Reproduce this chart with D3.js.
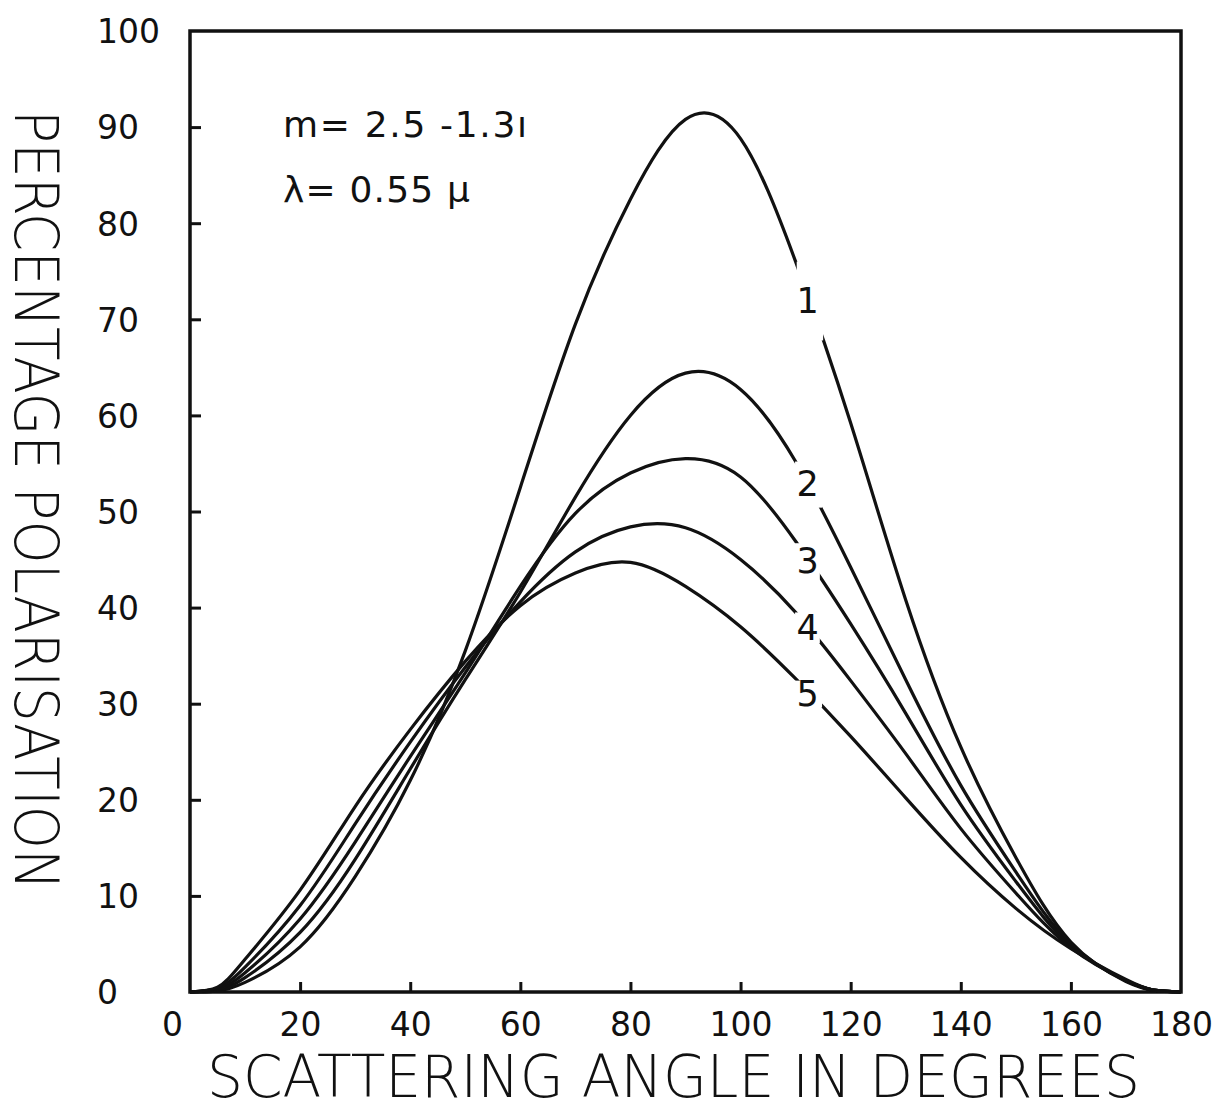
<!DOCTYPE html>
<meta charset="utf-8">
<script src="https://d3js.org/d3.v7.min.js"></script>
<style>
  body { margin: 0; background: #fff; }
  text { font-family: "DejaVu Sans", sans-serif; fill: #111; }
</style>
<body>
<div id="my_dataviz"></div>
</body>
<script>
    // scattering angle (degrees) shared by all curves
    var angles = [0, 5, 10, 20, 30, 40, 50, 60, 70, 80, 90, 100, 110, 120, 130, 140, 150, 160, 170, 175, 180];

    // percentage polarisation for curves 1..5
    var curve1 = [0, 0.1, 1.0, 4.7, 12, 22, 35.5, 52.5, 69.5, 82.5, 90.8, 88.8, 76, 59.2, 40.8, 25.5, 14, 5.2, 1.1, 0.2, 0];
    var curve2 = [0, 0.2, 1.5, 6.2, 13.8, 23.2, 32.5, 41.6, 51.5, 60.0, 64.4, 62.7, 55.2, 44.2, 32.5, 21.5, 12.5, 5.0, 1.2, 0.2, 0];
    var curve3 = [0, 0.3, 2.0, 7.6, 15.6, 24.5, 33.2, 42.2, 49.8, 54.0, 55.5, 53.6, 46.9, 38.3, 29, 19.5, 11.5, 4.8, 1.2, 0.2, 0];
    var curve4 = [0, 0.4, 2.6, 9.0, 17.5, 26, 33.8, 40.6, 45.8, 48.4, 48.3, 45, 39.5, 32.4, 24.8, 17, 10.3, 4.6, 1.2, 0.2, 0];
    var curve5 = [0, 0.5, 3.4, 10.6, 19.3, 27.3, 34.4, 40.2, 43.6, 44.7, 42.2, 38, 32.6, 26.6, 20.2, 14.0, 8.7, 4.5, 1.3, 0.2, 0];

    var curveNames = ["1", "2", "3", "4", "5"];
    // where each curve is broken for its number: [angle from, value from, angle to, value to]
    var gaps = [
        [110.2, 76.0, 115.0, 67.8],
        [109.9, 55.2, 114.8, 50.4],
        [109.9, 46.7, 114.4, 42.9],
        [109.9, 39.5, 114.4, 36.3],
        [109.7, 32.4, 114.8, 29.6]
    ];
    var labelAngle = 112.2;
    var labelValue = [72.0, 52.9, 44.9, 37.9, 31.1];

    var xTicks = [0, 20, 40, 60, 80, 100, 120, 140, 160, 180];
    var yTicks = [0, 10, 20, 30, 40, 50, 60, 70, 80, 90, 100];

    var width = 1212, height = 1112;
    var margin = {top: 31, right: 31, bottom: 120, left: 190};
    var innerW = width - margin.left - margin.right,
        innerH = height - margin.top - margin.bottom;

    var svg = d3.select("#my_dataviz")
        .append("svg")
        .attr("width", width)
        .attr("height", height)
        .append("g")
        .attr("transform", "translate(" + margin.left + "," + margin.top + ")");

    var x = d3.scaleLinear().domain([0, 180]).range([0, innerW]);
    var y = d3.scaleLinear().domain([0, 100]).range([innerH, 0]);

    // x axis, ticks pointing inward
    var gx = svg.append("g")
        .attr("transform", "translate(0," + innerH + ")")
        .call(d3.axisBottom(x).tickValues(xTicks).tickSize(-10).tickPadding(21));
    gx.select(".domain").remove();
    gx.selectAll(".tick line").attr("stroke", "#111").attr("stroke-width", 3)
        .filter(function (d) { return d == 0 || d == 180; }).remove();
    gx.selectAll(".tick text").style("font-size", "33px").attr("fill", "#111")
        .filter(function (d) { return d == 0; }).attr("dx", -18);

    // y axis, labels left aligned
    var gy = svg.append("g")
        .call(d3.axisLeft(y).tickValues(yTicks).tickSize(-11));
    gy.select(".domain").remove();
    gy.selectAll(".tick line").attr("stroke", "#111").attr("stroke-width", 3)
        .filter(function (d) { return d == 0 || d == 100; }).remove();
    gy.selectAll(".tick text")
        .attr("x", 97 - margin.left)
        .attr("text-anchor", "start")
        .attr("dy", "0.36em")
        .style("font-size", "33px")
        .attr("fill", "#111");

    // frame
    svg.append("rect")
        .attr("x", 0).attr("y", 0)
        .attr("width", innerW).attr("height", innerH)
        .attr("fill", "none")
        .attr("stroke", "#111")
        .attr("stroke-width", 3.5);

    var series = [curve1, curve2, curve3, curve4, curve5];
    var line = d3.line()
        .x(function (d) { return x(d[0]); })
        .y(function (d) { return y(Math.max(0, d[1])); })
        .curve(d3.curveNatural);

    svg.selectAll(".curve")
        .data(series)
        .enter()
        .append("path")
        .attr("class", "curve")
        .attr("d", function (vals) {
            return line(angles.map(function (a, i) { return [a, vals[i]]; }));
        })
        .attr("fill", "none")
        .attr("stroke", "#111")
        .attr("stroke-width", 3.2);

    // blank out the gap where each number sits
    svg.selectAll(".gap")
        .data(gaps)
        .enter()
        .append("rect")
        .attr("x", function (g) { return x(g[0]); })
        .attr("y", function (g) { return y(g[1]); })
        .attr("width", function (g) { return x(g[2]) - x(g[0]); })
        .attr("height", function (g) { return y(g[3]) - y(g[1]); })
        .attr("fill", "#fff");

    svg.selectAll(".lab")
        .data(curveNames)
        .enter()
        .append("text")
        .attr("x", x(labelAngle))
        .attr("y", function (d, i) { return y(labelValue[i]); })
        .attr("dy", "0.36em")
        .attr("text-anchor", "middle")
        .style("font-size", "35px")
        .text(function (d) { return d; });

    // annotations
    svg.append("text")
        .attr("x", 283 - margin.left)
        .attr("y", 137 - margin.top)
        .style("font-size", "36px")
        .attr("textLength", 244)
        .attr("lengthAdjust", "spacing")
        .text("m= 2.5 -1.3ı");
    svg.append("text")
        .attr("x", 283 - margin.left)
        .attr("y", 202 - margin.top)
        .style("font-size", "36px")
        .attr("textLength", 187)
        .attr("lengthAdjust", "spacing")
        .text("λ= 0.55 μ");

    // axis titles
    svg.append("text")
        .attr("x", 207 - margin.left)
        .attr("y", 1097 - margin.top)
        .style("font-size", "58px")
        .style("font-weight", "200")
        .attr("textLength", 933)
        .attr("lengthAdjust", "spacingAndGlyphs")
        .text("SCATTERING ANGLE IN DEGREES");

    svg.append("text")
        .attr("transform", "translate(" + (15 - margin.left) + "," + (500 - margin.top) + ") rotate(90)")
        .attr("text-anchor", "middle")
        .style("font-size", "60px")
        .style("font-weight", "200")
        .attr("textLength", 780)
        .attr("lengthAdjust", "spacingAndGlyphs")
        .text("PERCENTAGE POLARISATION");
</script>
</html>
